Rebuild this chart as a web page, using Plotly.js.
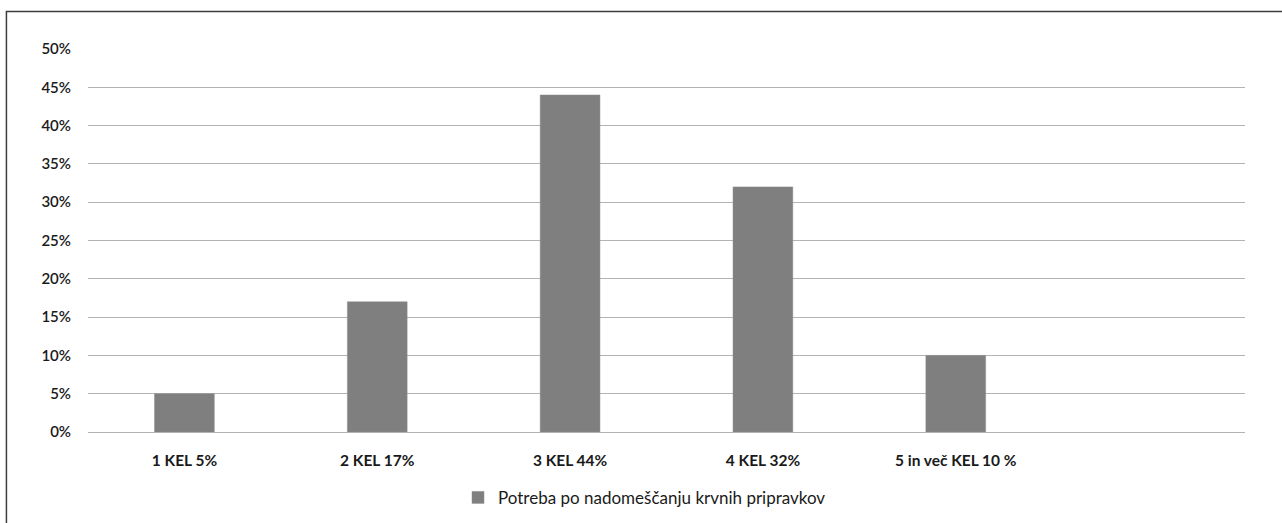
<!DOCTYPE html>
<html>
<head>
<meta charset="utf-8">
<script src="https://cdn.plot.ly/plotly-3.0.1.min.js"></script>
<style>
  html, body { margin: 0; padding: 0; background: #fff; }
  #chart { width: 1282px; height: 523px; }
</style>
</head>
<body>
<div id="chart"></div>
<script>
// Categories (the last slot is an empty category, as in the original workbook chart)
const categories = ['1 KEL 5%', '2 KEL 17%', '3 KEL 44%', '4 KEL 32%', '5 in več KEL 10 %', ' '];
const shares = [0.05, 0.17, 0.44, 0.32, 0.10, null];
const seriesName = 'Potreba po nadomeščanju krvnih pripravkov';
const yTicks = [0, 0.05, 0.10, 0.15, 0.20, 0.25, 0.30, 0.35, 0.40, 0.45, 0.50];

const fontFamily = 'Lato, "Open Sans", sans-serif';

const trace = {
  type: 'bar',
  x: categories,
  y: shares,
  name: seriesName,
  marker: { color: '#7f7f7f', line: { color: '#8c8c8c', width: 0.5 } },
  showlegend: true,
  hoverinfo: 'x+y'
};

const layout = {
  width: 1282,
  height: 523,
  margin: { l: 88, r: 37, t: 49, b: 91, autoexpand: false },
  paper_bgcolor: '#ffffff',
  plot_bgcolor: '#ffffff',
  bargap: 0.69,
  font: { family: fontFamily, size: 15, color: '#1a1a1a' },
  xaxis: {
    type: 'category',
    showgrid: false,
    zeroline: false,
    showline: false,
    ticks: 'outside',
    ticklen: 14,
    tickcolor: 'rgba(0,0,0,0)',
    tickfont: { family: fontFamily, size: 15.5, color: '#1a1a1a', weight: 'bold' },
    automargin: false,
    fixedrange: true
  },
  yaxis: {
    range: [0, 0.5],
    tickvals: yTicks,
    tickformat: '.0%',
    showgrid: true,
    gridcolor: '#b3b3b3',
    gridwidth: 1,
    zeroline: true,
    zerolinecolor: '#b3b3b3',
    zerolinewidth: 1,
    showline: false,
    ticks: 'outside',
    ticklen: 13,
    tickcolor: 'rgba(0,0,0,0)',
    tickfont: { family: fontFamily, size: 15, color: '#1a1a1a', weight: 600 },
    automargin: false,
    fixedrange: true
  },
  showlegend: true,
  legend: {
    orientation: 'h',
    x: 0.3198,
    xanchor: 'left',
    y: -0.172,
    yanchor: 'middle',
    font: { family: fontFamily, size: 17, color: '#1a1a1a' },
    bgcolor: 'rgba(0,0,0,0)',
    itemwidth: 30
  },
  shapes: [
    {
      type: 'rect',
      xref: 'paper', yref: 'paper',
      x0: -0.0705, x1: 1.2,
      y0: -0.5, y1: 1.0979,
      line: { color: '#3c3c3c', width: 1.5 },
      fillcolor: 'rgba(0,0,0,0)',
      layer: 'below'
    }
  ]
};

Plotly.newPlot('chart', [trace], layout, { displayModeBar: false, staticPlot: true });
</script>
</body>
</html>
